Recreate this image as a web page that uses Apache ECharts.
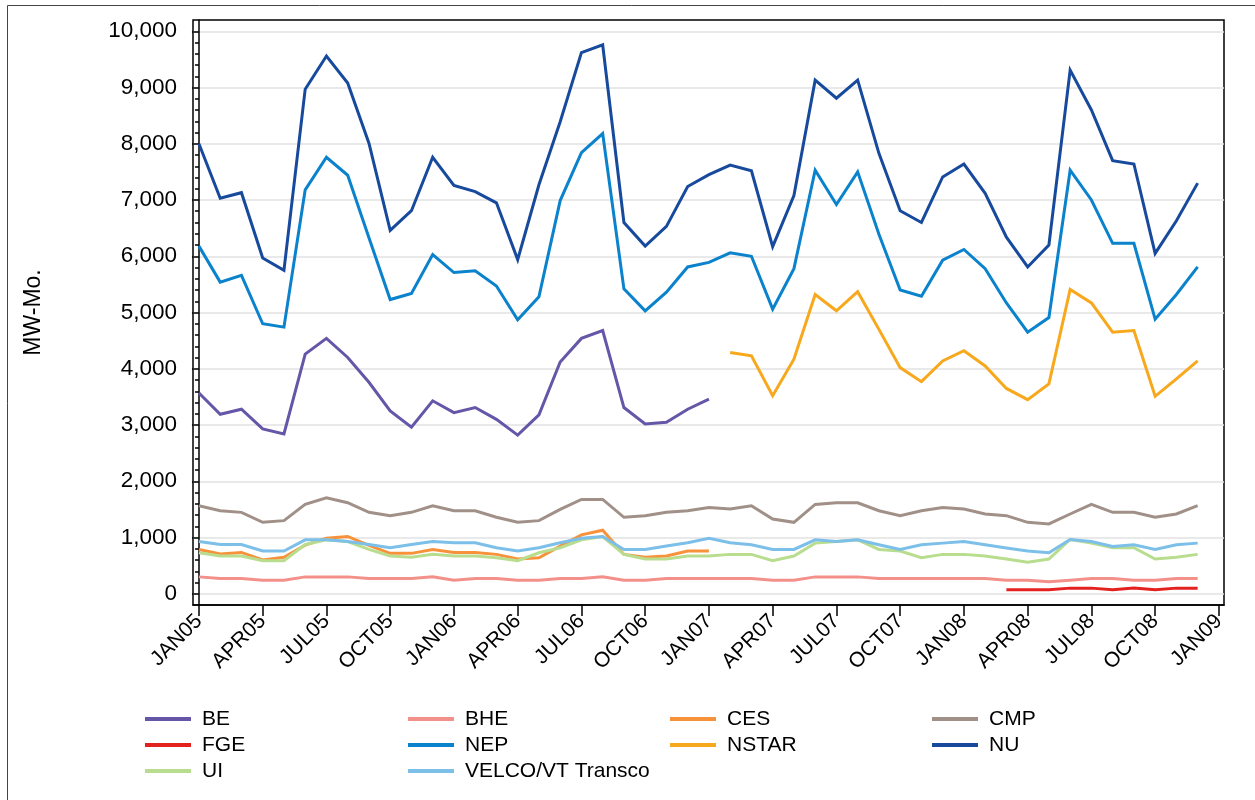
<!DOCTYPE html>
<html>
<head>
<meta charset="utf-8">
<script src="https://cdn.jsdelivr.net/npm/echarts@6/dist/echarts.min.js"></script>
<style>
  html, body { margin: 0; padding: 0; background: #fff; }
  #chart { width: 1255px; height: 800px; }
</style>
</head>
<body>
<div id="chart"></div>
<script>
// Monthly observations, JAN 2005 through DEC 2008
const months = [
  '2005-01','2005-02','2005-03','2005-04','2005-05','2005-06','2005-07','2005-08','2005-09','2005-10','2005-11','2005-12',
  '2006-01','2006-02','2006-03','2006-04','2006-05','2006-06','2006-07','2006-08','2006-09','2006-10','2006-11','2006-12',
  '2007-01','2007-02','2007-03','2007-04','2007-05','2007-06','2007-07','2007-08','2007-09','2007-10','2007-11','2007-12',
  '2008-01','2008-02','2008-03','2008-04','2008-05','2008-06','2008-07','2008-08','2008-09','2008-10','2008-11','2008-12'
];

// Quarterly axis labels (the last one is the month after the data ends)
const tickLabels = ['JAN05','APR05','JUL05','OCT05','JAN06','APR06','JUL06','OCT06','JAN07',
                    'APR07','JUL07','OCT07','JAN08','APR08','JUL08','OCT08','JAN09'];
const yTickValues = [0, 1000, 2000, 3000, 4000, 5000, 6000, 7000, 8000, 9000, 10000];

// MW-Mo. per company
const BE = [3570,3190,3280,2930,2840,4260,4540,4200,3760,3250,2960,3430,
            3220,3310,3100,2820,3180,4120,4540,4680,3310,3020,3050,3280,
            3460,null,null,null,null,null,null,null,null,null,null,null,
            null,null,null,null,null,null,null,null,null,null,null,null];
const BHE = [300,271,271,241,241,300,300,300,271,271,271,300,
             241,271,271,241,241,271,271,300,241,241,271,271,
             271,271,271,241,241,300,300,300,271,271,271,271,
             271,271,241,241,212,241,271,271,241,241,271,271];
const CES = [788,706,735,600,647,865,988,1018,859,718,718,788,
             735,735,700,618,641,847,1047,1129,700,647,671,759,
             759,null,null,null,null,null,null,null,null,null,null,null,
             null,null,null,null,null,null,null,null,null,null,null,null];
const CMP = [1565,1476,1447,1270,1300,1588,1706,1618,1447,1388,1447,1565,
             1476,1476,1359,1270,1300,1500,1676,1676,1359,1388,1447,1476,
             1535,1506,1565,1329,1270,1588,1618,1618,1476,1388,1476,1535,
             1506,1418,1388,1270,1241,1418,1588,1447,1447,1359,1418,1565];
const FGE = [null,null,null,null,null,null,null,null,null,null,null,null,
             null,null,null,null,null,null,null,null,null,null,null,null,
             null,null,null,null,null,null,null,null,null,null,null,null,
             null,null,71,71,71,100,100,71,100,71,100,100];
const NEP = [6180,5540,5660,4800,4740,7180,7760,7440,6330,5230,5340,6030,
             5710,5740,5470,4870,5280,6990,7840,8180,5420,5030,5360,5810,
             5890,6060,6000,5060,5780,7530,6920,7500,6390,5400,5290,5930,
             6120,5780,5170,4650,4910,7530,7000,6230,6230,4880,5320,5810];
const NSTAR = [null,null,null,null,null,null,null,null,null,null,null,null,
               null,null,null,null,null,null,null,null,null,null,null,null,
               null,4290,4230,3520,4170,5320,5030,5370,4700,4020,3770,4140,
               4320,4050,3650,3450,3730,5410,5170,4650,4680,3510,3820,4140];
const NU = [8000,7030,7130,5970,5750,8970,9560,9080,8010,6460,6810,7760,
            7260,7150,6950,5940,7270,8390,9620,9760,6600,6180,6530,7240,
            7450,7620,7520,6170,7080,9130,8810,9130,7830,6810,6600,7410,
            7640,7120,6340,5810,6200,9310,8600,7700,7640,6050,6630,7300];
const UI = [729,671,671,588,588,876,959,929,788,671,647,700,
            671,671,641,588,729,818,959,1018,700,618,618,671,
            671,700,700,588,671,900,929,959,788,759,641,700,
            700,671,618,559,618,965,900,818,818,618,647,700];
const VELCO = [929,876,876,759,759,959,959,929,876,818,876,929,
               906,906,818,759,818,906,988,1018,788,788,847,906,
               988,906,870,788,788,959,929,959,870,788,870,900,
               929,870,812,759,729,965,929,841,870,788,870,900];

const seriesDefs = [
  { name: 'BE', values: BE, color: '#6656a8' },
  { name: 'BHE', values: BHE, color: '#f4908a' },
  { name: 'CES', values: CES, color: '#f7923a' },
  { name: 'CMP', values: CMP, color: '#a09088' },
  { name: 'FGE', values: FGE, color: '#e3221f' },
  { name: 'NEP', values: NEP, color: '#0a82cc' },
  { name: 'NSTAR', values: NSTAR, color: '#f7a81c' },
  { name: 'NU', values: NU, color: '#174a9c' },
  { name: 'UI', values: UI, color: '#b9dd8e' },
  { name: 'VELCO/VT Transco', values: VELCO, color: '#7cbfe8' }
];

const legendColumns = [
  ['BE', 'FGE', 'UI'],
  ['BHE', 'NEP', 'VELCO/VT Transco'],
  ['CES', 'NSTAR'],
  ['CMP', 'NU']
];
const legendLefts = [145, 408, 670, 932];

const FONT = '"Liberation Sans", Arial, Helvetica, sans-serif';

// x is the month's position counted from JAN05; quarter ticks every 3 months
const tickPositions = tickLabels.map((_, i) => i * 3);
const tickLabelByPos = {};
tickPositions.forEach((p, i) => { tickLabelByPos[p] = tickLabels[i]; });

const chart = echarts.init(document.getElementById('chart'), null, { renderer: 'canvas' });

chart.setOption({
  animation: false,
  backgroundColor: '#fff',
  textStyle: { fontFamily: FONT },
  graphic: [{
    type: 'rect', silent: true, z: -10,
    shape: { x: 7.5, y: 5.5, width: 1400, height: 900 },
    style: { fill: null, stroke: '#444', lineWidth: 1 }
  }],
  grid: {
    left: 193, right: 31, top: 20, bottom: 195,
    show: true, borderColor: '#000', borderWidth: 1.5, backgroundColor: 'transparent'
  },
  legend: legendColumns.map((col, i) => ({
    data: col,
    orient: 'vertical',
    left: legendLefts[i],
    top: 708,
    padding: 0,
    itemWidth: 46,
    itemHeight: 4,
    itemGap: 4,
    icon: 'rect',
    selectedMode: false,
    textStyle: { fontSize: 21, color: '#000', lineHeight: 22, fontFamily: FONT, padding: [0, 0, 0, 6] }
  })),
  xAxis: {
    type: 'value',
    min: -0.28,
    max: 48.24,
    axisLine: { show: true, onZero: false, lineStyle: { color: '#000', width: 1.5 } },
    axisTick: { show: true, customValues: tickPositions, length: 11, lineStyle: { color: '#000', width: 1.5 } },
    axisLabel: {
      customValues: tickPositions,
      rotate: 45,
      margin: 13,
      fontSize: 21,
      color: '#000',
      fontFamily: FONT,
      hideOverlap: false,
      padding: [0, 0, 0, 0],
      formatter: v => tickLabelByPos[Math.round(v)] || ''
    },
    splitLine: { show: false }
  },
  yAxis: {
    type: 'value',
    min: -200,
    max: 10200,
    minInterval: 1000,
    maxInterval: 1000,
    name: 'MW-Mo.',
    nameLocation: 'middle',
    nameGap: 148,
    nameTextStyle: { fontSize: 23, color: '#000', fontFamily: FONT },
    axisLine: { show: true, lineStyle: { color: '#000', width: 1.5 } },
    axisTick: { show: true, customValues: yTickValues, length: 7, lineStyle: { color: '#000', width: 1.5 } },
    minorTick: { show: true, splitNumber: 5, length: 4, lineStyle: { color: '#000', width: 1.5 } },
    axisLabel: {
      customValues: yTickValues,
      margin: 16,
      fontSize: 22.5,
      color: '#000',
      fontFamily: FONT,
      formatter: v => Number(v).toLocaleString('en-US')
    },
    splitLine: { show: true, lineStyle: { color: '#e2e2e2', width: 1.5 } },
    minorSplitLine: { show: false }
  },
  series: seriesDefs.map(s => ({
    name: s.name,
    type: 'line',
    data: months.map((m, i) => [i, s.values[i] == null ? '-' : s.values[i]]),
    showSymbol: false,
    symbol: 'none',
    connectNulls: false,
    color: s.color,
    lineStyle: { color: s.color, width: 3, join: 'miter', miterLimit: 10 },
    emphasis: { disabled: true }
  }))
});
</script>
</body>
</html>
